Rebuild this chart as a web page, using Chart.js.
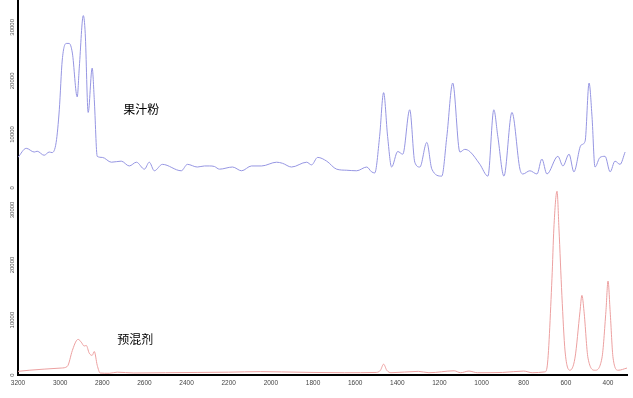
<!DOCTYPE html>
<html>
<head>
<meta charset="utf-8">
<script src="https://cdn.jsdelivr.net/npm/chart.js@4.4.1/dist/chart.umd.min.js"></script>
<style>
  html, body { margin: 0; padding: 0; background: #ffffff; }
  #wrap { width: 633px; height: 398px; }
</style>
</head>
<body>
<div id="wrap"><canvas id="spectra" width="633" height="398"></canvas></div>
<script>
// Raman spectra of the juice powder (top) and the premix (bottom)
const juiceWavenumber = [
  3200, 3161, 3123, 3109, 3076, 3052, 3038, 3019, 3004, 2990, 2971, 2957, 2942, 2919, 2909,
  2890, 2881, 2867, 2848, 2838, 2824, 2800, 2757, 2710, 2672, 2638, 2600, 2577, 2553, 2515,
  2425, 2396, 2349, 2315, 2291, 2268, 2244, 2182, 2139, 2092, 2044, 1973, 1945, 1902, 1830,
  1807, 1778, 1735, 1688, 1640, 1593, 1545, 1522, 1507, 1484, 1465, 1446, 1427, 1398, 1374,
  1341, 1317, 1293, 1260, 1236, 1189, 1165, 1137, 1103, 1080, 1056, 1008, 970, 942, 923,
  894, 856, 818, 804, 771, 737, 714, 690, 638, 614, 585, 562, 528, 509, 490,
  476, 462, 438, 414, 390, 367, 343, 319
];
const juiceIntensity = [
  5700, 7400, 6700, 6850, 6100, 6700, 6600, 8500, 14600, 23900, 27000, 27000, 25200, 17000, 22600,
  32200, 28900, 14100, 22400, 16500, 5900, 5700, 4800, 5000, 4100, 4800, 3500, 4800, 3200, 4400,
  3200, 4400, 3900, 4100, 4100, 4000, 3500, 3900, 3200, 4100, 4100, 4800, 4600, 3900, 4800,
  4300, 5700, 5000, 3500, 3300, 3200, 3900, 3000, 2800, 9600, 17800, 9600, 3900, 6800, 6300,
  14600, 4800, 3900, 8500, 3500, 2200, 9600, 19600, 6700, 7200, 6800, 4400, 2200, 14600, 9600,
  2200, 14100, 3500, 2600, 3200, 2600, 5400, 2600, 5900, 4100, 6300, 3000, 8000, 8700, 19600,
  13300, 3900, 5700, 5900, 3000, 5000, 4400, 6700
];

const premixWavenumber = [
  3200, 3147, 3076, 2995, 2966, 2942, 2924, 2914, 2900, 2886, 2876, 2862, 2848, 2838, 2824,
  2810, 2767, 2729, 2650, 2500, 2350, 2200, 2050, 1950, 1800, 1650, 1500, 1480, 1465, 1450,
  1430, 1300, 1250, 1130, 1100, 1060, 1020, 900, 800, 760, 700, 690, 666, 657, 642,
  633, 619, 604, 581, 557, 533, 524, 514, 495, 462, 429, 410, 400, 390, 376,
  352, 310
];
const premixIntensity = [
  700, 900, 1100, 1300, 1600, 4500, 6200, 6500, 6000, 5300, 5400, 4000, 3600, 4300, 1800,
  400, 350, 550, 400, 450, 500, 550, 650, 600, 500, 450, 500, 900, 2000, 900,
  450, 700, 450, 800, 450, 750, 450, 500, 750, 450, 600, 1300, 17600, 26700, 33400,
  26700, 14500, 4400, 900, 3100, 11600, 14500, 11600, 3100, 900, 3100, 11600, 17100, 11600, 3100,
  900, 1300
];

const wavenumberTicks = [3200, 3000, 2800, 2600, 2400, 2200, 2000, 1800, 1600, 1400, 1200, 1000, 800, 600, 400];
const intensityTicks = [0, 10000, 20000, 30000];
const seriesNames = ['果汁粉', '预混剂'];

const toPoints = (xs, ys) => xs.map((x, i) => ({ x: x, y: ys[i] }));
const plainNumber = value => String(value);

// Series names written beside each trace, placed in data coordinates
const seriesLabels = {
  id: 'seriesLabels',
  afterDatasetsDraw(chart) {
    const { ctx, scales } = chart;
    const spots = [
      { text: seriesNames[0], x: 2700, y: 14600, axis: 'yTop' },
      { text: seriesNames[1], x: 2729, y: 6460, axis: 'yBottom' }
    ];
    ctx.save();
    ctx.font = '12px "Noto Sans CJK SC", sans-serif';
    ctx.fillStyle = '#000000';
    ctx.textAlign = 'left';
    ctx.textBaseline = 'middle';
    spots.forEach(s => {
      ctx.fillText(s.text, scales.x.getPixelForValue(s.x), scales[s.axis].getPixelForValue(s.y));
    });
    ctx.restore();
  }
};

function intensityAxis(maxValue, weight) {
  return {
    type: 'linear',
    position: 'left',
    stack: 'spectra',
    stackWeight: weight,
    min: 0,
    max: maxValue,
    grid: { display: false, drawTicks: false },
    border: { display: true, color: '#000000', width: 2 },
    ticks: {
      font: { family: 'Liberation Sans', size: 6 },
      color: '#555555',
      minRotation: 90,
      maxRotation: 90,
      crossAlign: 'center',
      padding: -3,
      callback: plainNumber
    },
    afterBuildTicks: scale => { scale.ticks = intensityTicks.map(v => ({ value: v })); },
    afterFit: scale => { scale.width = 18; }
  };
}

new Chart(document.getElementById('spectra'), {
  type: 'line',
  data: {
    datasets: [
      {
        label: seriesNames[1],
        data: toPoints(premixWavenumber, premixIntensity),
        xAxisID: 'x',
        yAxisID: 'yBottom',
        borderColor: 'rgb(236, 160, 160)',
        borderWidth: 1,
        pointRadius: 0,
        cubicInterpolationMode: 'monotone',
        fill: false
      },
      {
        label: seriesNames[0],
        data: toPoints(juiceWavenumber, juiceIntensity),
        xAxisID: 'x',
        yAxisID: 'yTop',
        borderColor: 'rgb(150, 150, 226)',
        borderWidth: 1,
        pointRadius: 0,
        cubicInterpolationMode: 'monotone',
        fill: false
      }
    ]
  },
  options: {
    responsive: false,
    animation: false,
    devicePixelRatio: 1,
    layout: { padding: { left: 0, right: 6, top: 0, bottom: 7 } },
    plugins: { legend: { display: false }, tooltip: { enabled: false } },
    scales: {
      x: {
        type: 'linear',
        position: 'bottom',
        reverse: true,
        min: 310,
        max: 3200,
        grid: { display: false, drawTicks: false },
        border: { display: true, color: '#000000', width: 2 },
        ticks: {
          font: { family: 'Liberation Sans', size: 6.5 },
          color: '#444444',
          padding: 4,
          maxRotation: 0,
          autoSkip: false,
          callback: plainNumber
        },
        afterBuildTicks: scale => { scale.ticks = wavenumberTicks.map(v => ({ value: v })); }
      },
      yBottom: intensityAxis(34000, 1),
      yTop: intensityAxis(35000, 1)
    }
  },
  plugins: [seriesLabels]
});
</script>
</body>
</html>
